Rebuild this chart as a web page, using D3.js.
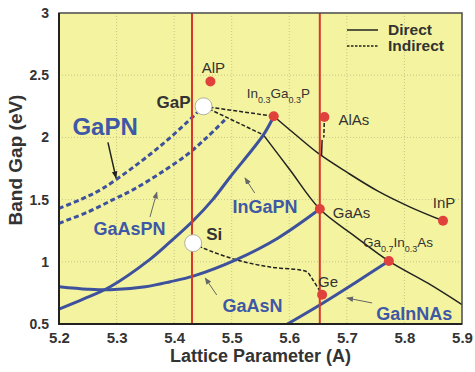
<!DOCTYPE html>
<html>
<head>
<meta charset="utf-8">
<script src="https://cdn.jsdelivr.net/npm/d3@7"></script>
<style>
  body { margin: 0; background: #fff; }
  svg { display: block; }
  text { font-family: "Liberation Sans", Arial, Helvetica, sans-serif; }
</style>
</head>
<body>
<svg id="chart" width="475" height="372"></svg>
<script>
// ---------- data ----------
const xTicks = [5.2, 5.3, 5.4, 5.5, 5.6, 5.7, 5.8, 5.9];
const xTickLabels = ["5.2", "5.3", "5.4", "5.5", "5.6", "5.7", "5.8", "5.9"];
const yTicks = [0.5, 1, 1.5, 2, 2.5, 3];
const yTickLabels = ["0.5", "1", "1.5", "2", "2.5", "3"];

// substrate lattice constants (Si, GaAs)
const substrateLattice = [5.431, 5.653];

// compound semiconductors (filled markers): lattice constant (Å), band gap (eV)
const compoundNames = ["AlP", "InGaP", "AlAs", "GaAs", "InP", "GaInAs", "Ge"];
const compoundLattice = [5.463, 5.573, 5.661, 5.653, 5.867, 5.773, 5.657];
const compoundGap = [2.45, 2.17, 2.164, 1.424, 1.33, 1.006, 0.735];

// indirect elemental / substrate materials (open markers)
const openNames = ["GaP", "Si"];
const openLattice = [5.451, 5.433];
const openGap = [2.25, 1.15];

// dilute-nitride alloys (blue)
const inGaPN = [[5.2, 0.62], [5.242, 0.70], [5.289, 0.80], [5.358, 1.02], [5.393, 1.16],
                [5.433, 1.33], [5.467, 1.50], [5.497, 1.68], [5.555, 2.02], [5.573, 2.17]];
const gaAsN = [[5.2, 0.80], [5.25, 0.78], [5.289, 0.775], [5.35, 0.80], [5.393, 0.84],
               [5.433, 0.885], [5.509, 1.02], [5.58, 1.19], [5.653, 1.424]];
const gaInNAs = [[5.58, 0.455], [5.653, 0.653], [5.714, 0.83], [5.773, 1.006]];
const gaPN = [[5.2, 1.43], [5.24, 1.505], [5.276, 1.59], [5.329, 1.76], [5.381, 1.95],
              [5.422, 2.12], [5.44, 2.20]];
const gaAsPN = [[5.2, 1.31], [5.25, 1.40], [5.294, 1.50], [5.329, 1.58], [5.375, 1.71],
                [5.422, 1.86], [5.457, 2.00], [5.49, 2.15]];

// III-V ternaries, direct gap (black solid)
const inGaPToInP = [[5.573, 2.17], [5.61, 2.025], [5.65, 1.873], [5.70, 1.72],
                    [5.754, 1.568], [5.81, 1.44], [5.867, 1.33]];
const gaInPToGaInAs = [[5.555, 2.02], [5.601, 1.74], [5.653, 1.424], [5.714, 1.205],
                       [5.773, 1.006], [5.84, 0.83], [5.9, 0.656]];
const alGaAsDirect = [[5.657, 1.98], [5.656, 1.85]];

// indirect gap (black dashed)
const alGaAsIndirect = [[5.661, 2.164], [5.66, 2.0]];
const gaPToInGaP = [[5.451, 2.25], [5.573, 2.17]];
const gaPToKink = [[5.451, 2.25], [5.555, 2.02]];
const siToGe = [[5.433, 1.15], [5.45, 1.111], [5.509, 1.015], [5.567, 0.958],
                [5.619, 0.934], [5.631, 0.918], [5.641, 0.854], [5.657, 0.735]];

// ---------- layout ----------
const svg = d3.select("#chart");
const x = d3.scaleLinear().domain([5.2, 5.9]).range([59, 462]);
const y = d3.scaleLinear().domain([0.5, 3]).range([324, 13]);
const [x0, x1] = x.range();
const [y0, y1] = y.range();

const BLUE = "#3d519c";
const BLUE_TEXT = "#3f58a6";
const RED = "#d9362c";
const INK = "#333333";

svg.append("rect").attr("width", 475).attr("height", 372).attr("fill", "#fff");

const defs = svg.append("defs");
defs.append("clipPath").attr("id", "plotClip")
  .append("rect").attr("x", x0).attr("y", y1).attr("width", x1 - x0).attr("height", y0 - y1);

function arrowMarker(id, color) {
  defs.append("marker").attr("id", id)
    .attr("viewBox", "0 0 10 10").attr("refX", 9).attr("refY", 5)
    .attr("markerWidth", 7).attr("markerHeight", 7).attr("markerUnits", "userSpaceOnUse")
    .attr("orient", "auto")
    .append("path").attr("d", "M0,1 L10,5 L0,9 Z").attr("fill", color);
}
arrowMarker("arrowDark", "#222");
arrowMarker("arrowGrey", "#666");

// plot background
svg.append("rect").attr("x", x0).attr("y", y1).attr("width", x1 - x0).attr("height", y0 - y1)
  .attr("fill", "#f4f4a0");

// dotted grid
const grid = svg.append("g").attr("stroke", "#c6c68c").attr("stroke-width", 1)
  .attr("stroke-dasharray", "1,2");
grid.selectAll("line.v").data(xTicks.slice(1, -1)).join("line").attr("class", "v")
  .attr("x1", d => x(d)).attr("x2", d => x(d)).attr("y1", y1).attr("y2", y0);
grid.selectAll("line.h").data(yTicks.slice(1, -1)).join("line").attr("class", "h")
  .attr("x1", x0).attr("x2", x1).attr("y1", d => y(d)).attr("y2", d => y(d));

// curves
const plot = svg.append("g").attr("clip-path", "url(#plotClip)");
const smooth = d3.line().x(d => x(d[0])).y(d => y(d[1])).curve(d3.curveCatmullRom.alpha(0.5));
const straight = d3.line().x(d => x(d[0])).y(d => y(d[1]));

function drawCurve(data, gen, color, width, dash) {
  plot.append("path").attr("d", gen(data)).attr("fill", "none")
    .attr("stroke", color).attr("stroke-width", width)
    .attr("stroke-dasharray", dash || null).attr("stroke-linejoin", "round");
}

// black direct / indirect
drawCurve(inGaPToInP, smooth, "#222", 1.5);
drawCurve(gaInPToGaInAs, smooth, "#222", 1.5);
drawCurve(alGaAsDirect, straight, "#222", 1.5);
drawCurve(alGaAsIndirect, straight, "#222", 1.5, "4,2");
drawCurve(gaPToInGaP, straight, "#222", 1.5, "4,2");
drawCurve(gaPToKink, straight, "#222", 1.5, "4,2");
drawCurve(siToGe, smooth, "#222", 1.5, "4,2");

// blue dilute nitrides
drawCurve(gaPN, smooth, BLUE, 3, "5,3");
drawCurve(gaAsPN, smooth, BLUE, 3, "5,3");
drawCurve(inGaPN, smooth, BLUE, 3);
drawCurve(gaAsN, smooth, BLUE, 3);
drawCurve(gaInNAs, smooth, BLUE, 3);

// substrate lines
plot.selectAll("line.sub").data(substrateLattice).join("line").attr("class", "sub")
  .attr("x1", d => x(d)).attr("x2", d => x(d)).attr("y1", y1).attr("y2", y0)
  .attr("stroke", RED).attr("stroke-width", 2);

// callout arrows
const callouts = [
  { from: [5.285, 1.96], to: [5.299, 1.675], marker: "arrowDark", color: "#222", w: 1.5 },
  { from: [5.358, 1.36], to: [5.370, 1.56], marker: "arrowGrey", color: "#666", w: 1 },
  { from: [5.540, 1.553], to: [5.523, 1.674], marker: "arrowGrey", color: "#666", w: 1 },
  { from: [5.474, 0.733], to: [5.454, 0.870], marker: "arrowGrey", color: "#666", w: 1 },
  { from: [5.744, 0.669], to: [5.700, 0.709], marker: "arrowGrey", color: "#666", w: 1 }
];
svg.selectAll("line.callout").data(callouts).join("line").attr("class", "callout")
  .attr("x1", d => x(d.from[0])).attr("y1", d => y(d.from[1]))
  .attr("x2", d => x(d.to[0])).attr("y2", d => y(d.to[1]))
  .attr("stroke", d => d.color).attr("stroke-width", d => d.w)
  .attr("marker-end", d => `url(#${d.marker})`);

// markers
const compounds = compoundNames.map((n, i) => ({ name: n, a: compoundLattice[i], eg: compoundGap[i] }));
const opens = openNames.map((n, i) => ({ name: n, a: openLattice[i], eg: openGap[i] }));

svg.selectAll("circle.cmp").data(compounds).join("circle").attr("class", "cmp")
  .attr("cx", d => x(d.a)).attr("cy", d => y(d.eg)).attr("r", 5)
  .attr("fill", "#e0413a");
svg.selectAll("circle.open").data(opens).join("circle").attr("class", "open")
  .attr("cx", d => x(d.a)).attr("cy", d => y(d.eg)).attr("r", 8.5)
  .attr("fill", "#fff").attr("stroke", "#b0b0a0").attr("stroke-width", 1);

// marker labels (offsets in pixels from each marker)
const labelStyle = {
  AlP:    { dx: 3,   dy: -8,  anchor: "middle" },
  AlAs:   { dx: 14,  dy: 8,   anchor: "start" },
  GaAs:   { dx: 13,  dy: 9,   anchor: "start" },
  InP:    { dx: 1,   dy: -13, anchor: "middle" },
  Ge:     { dx: -4,  dy: -8,  anchor: "start" }
};
compounds.filter(d => labelStyle[d.name]).forEach(d => {
  const s = labelStyle[d.name];
  svg.append("text").attr("x", x(d.a) + s.dx).attr("y", y(d.eg) + s.dy)
    .attr("text-anchor", s.anchor).attr("font-size", 15).attr("fill", INK).text(d.name);
});

function subLabel(px, py, parts) {
  const t = svg.append("text").attr("x", px).attr("y", py).attr("fill", INK).attr("font-size", 13.5);
  parts.forEach(([str, sub], i) => {
    const ts = t.append("tspan").text(str);
    if (sub) ts.attr("font-size", 9).attr("dy", 5);
    else if (i > 0) ts.attr("dy", -5);
  });
}
const ingap = compounds.find(d => d.name === "InGaP");
subLabel(x(ingap.a) - 27, y(ingap.eg) - 18, [["In"], ["0.3", 1], ["Ga"], ["0.3", 1], ["P"]]);
const gainas = compounds.find(d => d.name === "GaInAs");
subLabel(x(gainas.a) - 26, y(gainas.eg) - 14, [["Ga"], ["0.7", 1], ["In"], ["0.3", 1], ["As"]]);

const gap = opens.find(d => d.name === "GaP");
svg.append("text").attr("x", x(gap.a) - 13).attr("y", y(gap.eg) + 2).attr("text-anchor", "end")
  .attr("font-size", 17).attr("font-weight", "bold").attr("fill", INK).text("GaP");
const si = opens.find(d => d.name === "Si");
svg.append("text").attr("x", x(si.a) + 13).attr("y", y(si.eg) - 3)
  .attr("font-size", 17).attr("font-weight", "bold").attr("fill", INK).text("Si");

// alloy names
const alloyLabels = [
  { text: "GaPN",    at: [5.28, 2.02],   size: 24 },
  { text: "GaAsPN",  at: [5.3225, 1.215], size: 18 },
  { text: "InGaPN",  at: [5.558, 1.392], size: 18 },
  { text: "GaAsN",   at: [5.536, 0.596], size: 18 },
  { text: "GaInNAs", at: [5.817, 0.532], size: 18 }
];
svg.selectAll("text.alloy").data(alloyLabels).join("text").attr("class", "alloy")
  .attr("x", d => x(d.at[0])).attr("y", d => y(d.at[1])).attr("text-anchor", "middle")
  .attr("font-size", d => d.size).attr("font-weight", "bold").attr("fill", BLUE_TEXT)
  .text(d => d.text);

// legend
const legend = svg.append("g");
legend.append("line").attr("x1", 347).attr("x2", 378).attr("y1", 30).attr("y2", 30)
  .attr("stroke", "#222").attr("stroke-width", 1.5);
legend.append("line").attr("x1", 347).attr("x2", 378).attr("y1", 46).attr("y2", 46)
  .attr("stroke", "#222").attr("stroke-width", 1.5).attr("stroke-dasharray", "2.5,1.5");
legend.append("text").attr("x", 388).attr("y", 35).attr("font-size", 15.5)
  .attr("font-weight", "bold").attr("fill", INK).text("Direct");
legend.append("text").attr("x", 388).attr("y", 51).attr("font-size", 15.5)
  .attr("font-weight", "bold").attr("fill", INK).text("Indirect");

// frame
svg.append("rect").attr("x", x0).attr("y", y1).attr("width", x1 - x0).attr("height", y0 - y1)
  .attr("fill", "none").attr("stroke", "#4a4a4a").attr("stroke-width", 1.5);
svg.append("path").attr("d", `M${x0},${y1}V${y0}H${x1}`).attr("fill", "none")
  .attr("stroke", "#222").attr("stroke-width", 2);

// axes
const xAxis = d3.axisBottom(x).tickValues(xTicks).tickSize(0).tickPadding(8)
  .tickFormat((d, i) => xTickLabels[i]);
const yAxis = d3.axisLeft(y).tickValues(yTicks).tickSize(0).tickPadding(10)
  .tickFormat((d, i) => yTickLabels[i]);
const gx = svg.append("g").attr("transform", `translate(0,${y0})`).call(xAxis);
const gy = svg.append("g").attr("transform", `translate(${x0},0)`).call(yAxis);
[gx, gy].forEach(g => {
  g.select(".domain").remove();
  g.selectAll("text").attr("font-family", "'Liberation Sans', Arial, sans-serif")
    .attr("font-weight", "bold").attr("fill", INK);
});
gx.selectAll("text").attr("font-size", 15);
gy.selectAll("text").attr("font-size", 14);

svg.append("text").attr("x", (x0 + x1) / 2).attr("y", 362).attr("text-anchor", "middle")
  .attr("font-size", 18).attr("font-weight", "bold").attr("fill", INK)
  .text("Lattice Parameter (A)");
svg.append("text").attr("transform", "translate(22,160) rotate(-90)").attr("text-anchor", "middle")
  .attr("font-size", 19).attr("font-weight", "bold").attr("fill", INK)
  .text("Band Gap (eV)");
</script>
</body>
</html>
